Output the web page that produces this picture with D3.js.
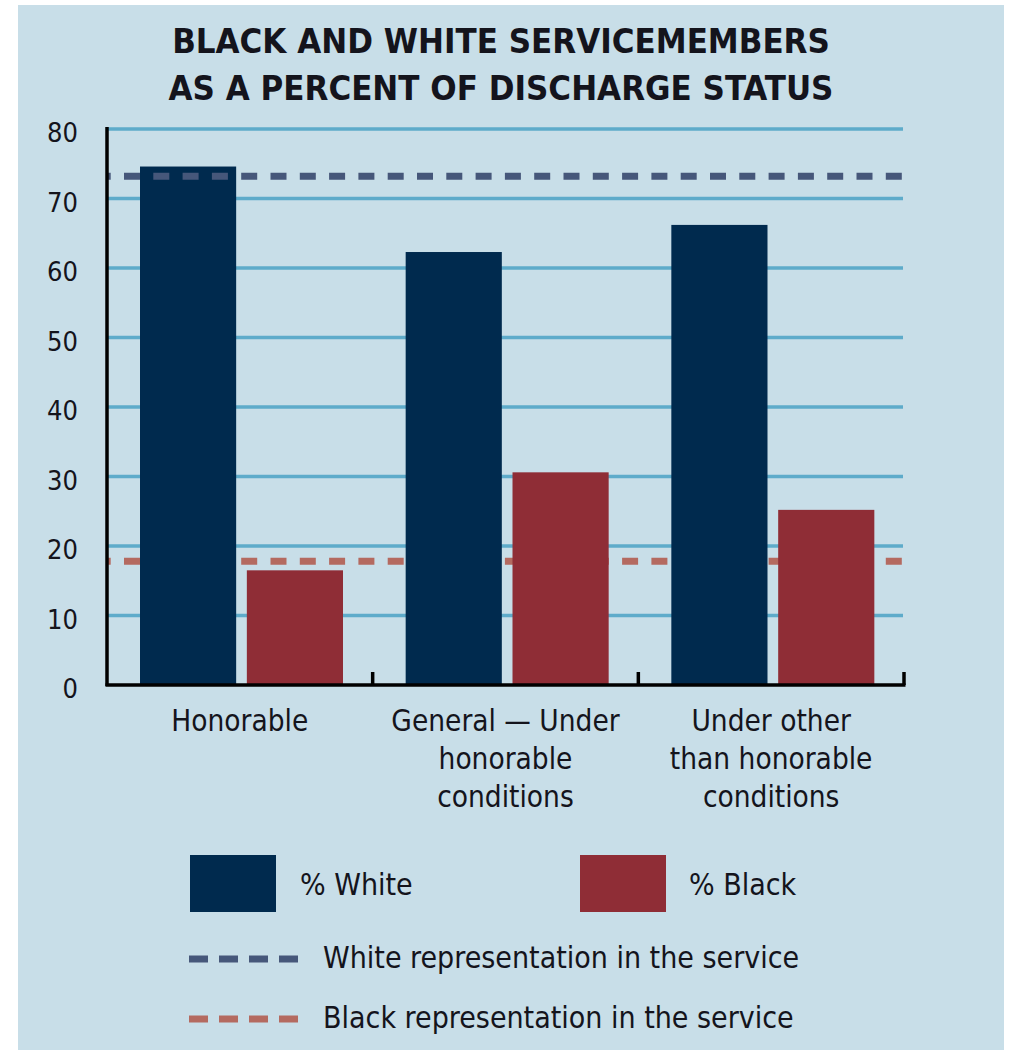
<!DOCTYPE html>
<style>
    body {
        margin: 0;
        background-color: white;
    }
    svg text {
        font-family: "Liberation Sans Narrow", "DejaVu Sans Condensed", sans-serif;
        fill: #14141c;
    }
    .title {
        font-weight: bold;
        font-size: 34.5px;
    }
    .ylabel {
        font-size: 27px;
    }
    .catlabel {
        font-size: 29.5px;
    }
    .legtext {
        font-size: 30px;
    }
</style>
<body>
<svg width="1013" height="1053"></svg>
<script src="https://d3js.org/d3.v7.min.js"></script>
<script>
    // data
    var categories = ["Honorable", "General \u2014 Under honorable conditions", "Under other than honorable conditions"];
    var categoryLines = [["Honorable"], ["General \u2014 Under", "honorable", "conditions"], ["Under other", "than honorable", "conditions"]];
    var series = ["% White", "% Black"];
    var whiteValues = [74.6, 62.3, 66.2];
    var blackValues = [16.5, 30.6, 25.2];
    var whiteRepresentation = 73.2;
    var blackRepresentation = 17.8;
    var yTicks = [0, 10, 20, 30, 40, 50, 60, 70, 80];
    var titleLines = ["BLACK AND WHITE SERVICEMEMBERS", "AS A PERCENT OF DISCHARGE STATUS"];
    var legendLines = ["White representation in the service", "Black representation in the service"];

    var colWhite = "#002a4e",
        colBlack = "#8f2d36",
        colWhiteDash = "#46577a",
        colBlackDash = "#b46a60",
        colGrid = "#5eabca",
        colBg = "#c8dee8";

    var svg = d3.select("svg");

    svg.append("rect")
        .attr("x", 18).attr("y", 5)
        .attr("width", 986).attr("height", 1045)
        .attr("fill", colBg);

    svg.selectAll(".title")
        .data(titleLines)
        .enter().append("text")
        .attr("class", "title")
        .attr("x", 501)
        .attr("y", function(d, i) { return 53 + i * 47; })
        .attr("text-anchor", "middle")
        .text(function(d) { return d; });

    var x0 = d3.scaleBand().domain(categories).range([107, 904]);
    var x1 = d3.scaleBand().domain(series).range([33, 236]).paddingInner(0.1);
    var y = d3.scaleLinear().domain([0, 80]).range([685, 129]);

    var rows = categories.map(function(c, i) {
        return {cat: c, values: [{s: series[0], v: whiteValues[i]}, {s: series[1], v: blackValues[i]}]};
    });
    var colorOf = d3.scaleOrdinal().domain(series).range([colWhite, colBlack]);

    // gridlines
    svg.append("g")
        .selectAll("line")
        .data(yTicks.filter(function(d) { return d > 0; }))
        .enter().append("line")
        .attr("x1", 107).attr("x2", 903)
        .attr("y1", function(d) { return y(d); })
        .attr("y2", function(d) { return y(d); })
        .attr("stroke", colGrid)
        .attr("stroke-width", 3.5);

    // y labels
    svg.append("g")
        .selectAll("text")
        .data(yTicks)
        .enter().append("text")
        .attr("class", "ylabel")
        .attr("x", 78)
        .attr("y", function(d) { return y(d) + 13; })
        .attr("text-anchor", "end")
        .text(function(d) { return d; });

    function dashLine(val, col) {
        svg.append("line")
            .attr("x1", 107).attr("x2", 903)
            .attr("y1", y(val)).attr("y2", y(val))
            .attr("stroke", col)
            .attr("stroke-width", 7)
            .attr("stroke-dasharray", "16,13.3")
            .attr("stroke-dashoffset", 12.3);
    }

    // black representation sits behind the bars
    dashLine(blackRepresentation, colBlackDash);

    var groups = svg.append("g")
        .selectAll("g")
        .data(rows)
        .enter().append("g")
        .attr("transform", function(d) { return "translate(" + x0(d.cat) + ",0)"; });

    groups.selectAll("rect")
        .data(function(d) { return d.values; })
        .enter().append("rect")
        .attr("x", function(d) { return x1(d.s); })
        .attr("width", x1.bandwidth())
        .attr("y", function(d) { return y(d.v); })
        .attr("height", function(d) { return y(0) - y(d.v); })
        .attr("fill", function(d) { return colorOf(d.s); });

    // white representation is drawn over the bars
    dashLine(whiteRepresentation, colWhiteDash);

    // axes
    svg.append("line")
        .attr("x1", 107).attr("x2", 107)
        .attr("y1", 127).attr("y2", 686)
        .attr("stroke", "#000").attr("stroke-width", 3.5);
    svg.append("line")
        .attr("x1", 105.5).attr("x2", 905.5)
        .attr("y1", 685).attr("y2", 685)
        .attr("stroke", "#000").attr("stroke-width", 3.5);
    svg.append("g")
        .selectAll("line")
        .data(categories)
        .enter().append("line")
        .attr("x1", function(d) { return x0(d) + x0.bandwidth(); })
        .attr("x2", function(d) { return x0(d) + x0.bandwidth(); })
        .attr("y1", 672).attr("y2", 685)
        .attr("stroke", "#000").attr("stroke-width", 3.5);

    // category labels
    var cl = svg.append("g")
        .selectAll("text")
        .data(categories)
        .enter().append("text")
        .attr("class", "catlabel")
        .attr("text-anchor", "middle")
        .attr("x", function(d) { return x0(d) + x0.bandwidth() / 2; })
        .attr("y", 731);
    cl.selectAll("tspan")
        .data(function(d, i) { return categoryLines[i]; })
        .enter().append("tspan")
        .attr("x", function() { return d3.select(this.parentNode).attr("x"); })
        .attr("dy", function(d, i) { return i == 0 ? 0 : 38; })
        .text(function(d) { return d; });

    // legend
    var leg = svg.append("g");
    leg.append("rect").attr("x", 190).attr("y", 855).attr("width", 86).attr("height", 57).attr("fill", colWhite);
    leg.append("text").attr("class", "legtext").attr("x", 300).attr("y", 895).text(series[0]);
    leg.append("rect").attr("x", 580).attr("y", 855).attr("width", 86).attr("height", 57).attr("fill", colBlack);
    leg.append("text").attr("class", "legtext").attr("x", 689).attr("y", 895).text(series[1]);

    [colWhiteDash, colBlackDash].forEach(function(col, i) {
        var yy = 959 + i * 60;
        leg.append("line")
            .attr("x1", 189).attr("x2", 298)
            .attr("y1", yy).attr("y2", yy)
            .attr("stroke", col)
            .attr("stroke-width", 7)
            .attr("stroke-dasharray", "19,11");
        leg.append("text")
            .attr("class", "legtext")
            .attr("x", 323)
            .attr("y", yy + 9)
            .text(legendLines[i]);
    });
</script>
</body>
